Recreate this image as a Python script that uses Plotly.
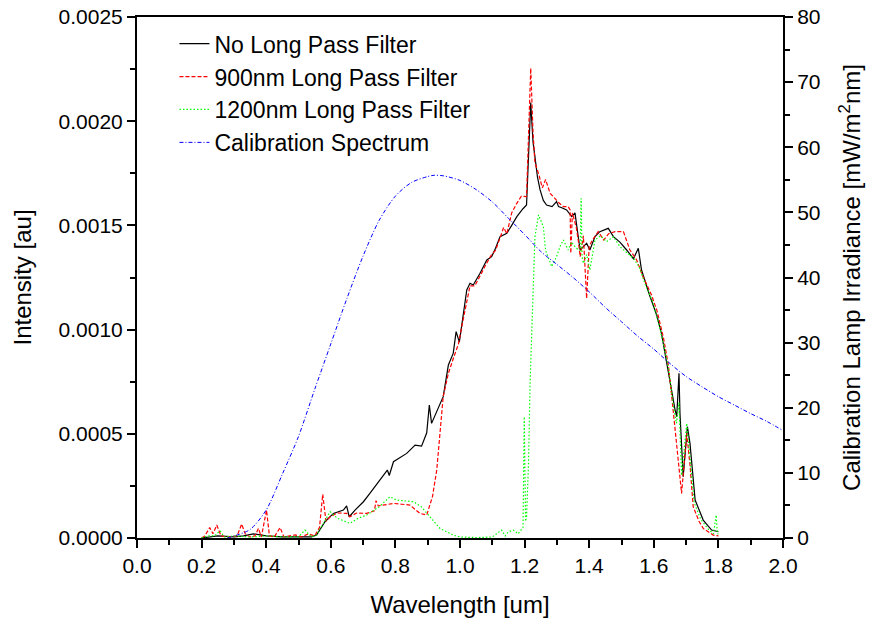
import plotly.graph_objects as go

# ---- No Long Pass Filter (black) ----
nolp_x = [0.20, 0.22, 0.25, 0.30, 0.33, 0.36, 0.40, 0.45, 0.50, 0.54, 0.556, 0.582, 0.608, 0.639, 0.649,
          0.657, 0.675, 0.701, 0.721, 0.752, 0.775, 0.781, 0.794, 0.835, 0.861, 0.881, 0.897, 0.905,
          0.912, 0.948, 0.964, 0.979, 0.988, 0.998, 1.010, 1.021, 1.031, 1.041, 1.062, 1.083, 1.098,
          1.110, 1.124, 1.145, 1.160, 1.176, 1.195, 1.206, 1.219, 1.226, 1.232, 1.240, 1.248, 1.258,
          1.268, 1.285, 1.299, 1.305, 1.315, 1.330, 1.346, 1.356, 1.366, 1.372, 1.382, 1.392, 1.402,
          1.418, 1.433, 1.459, 1.475, 1.495, 1.516, 1.537, 1.552, 1.562, 1.588, 1.609, 1.624, 1.638,
          1.650, 1.666, 1.671, 1.678, 1.681, 1.691, 1.704, 1.712, 1.728, 1.753, 1.779, 1.795, 1.800]
nolp_y = [0.0, 0.05e-4, 0.1e-4, 0.05e-4, 0.1e-4, 0.2e-4, 0.1e-4, 0.05e-4, 0.05e-4, 0.05e-4, 0.14e-4,
          0.78e-4, 1.18e-4, 1.34e-4, 1.54e-4, 1.02e-4, 1.34e-4, 1.74e-4, 2.14e-4, 2.78e-4, 3.26e-4,
          3.0e-4, 3.66e-4, 4.06e-4, 4.46e-4, 4.41e-4, 5.05e-4, 6.38e-4, 5.5e-4, 6.78e-4, 8.3e-4,
          8.86e-4, 9.9e-4, 9.4e-4, 10.78e-4, 11.9e-4, 12.22e-4, 12.14e-4, 12.7e-4, 13.34e-4, 13.5e-4,
          13.9e-4, 14.46e-4, 14.62e-4, 15.0e-4, 15.42e-4, 15.8e-4, 15.98e-4, 20.9e-4, 19.0e-4,
          18.3e-4, 17.3e-4, 16.7e-4, 16.2e-4, 15.98e-4, 15.9e-4, 16.14e-4, 15.9e-4, 15.85e-4,
          15.74e-4, 15.42e-4, 15.6e-4, 14.46e-4, 13.82e-4, 13.98e-4, 14.14e-4, 13.82e-4, 14.46e-4,
          14.7e-4, 14.86e-4, 14.46e-4, 14.2e-4, 13.82e-4, 13.4e-4, 13.9e-4, 12.86e-4, 11.6e-4,
          10.7e-4, 9.8e-4, 8.54e-4, 7.58e-4, 6.14e-4, 5.82e-4, 7.9e-4, 5.98e-4, 2.94e-4, 5.34e-4,
          4.54e-4, 1.82e-4, 0.86e-4, 0.38e-4, 0.3e-4, 0.3e-4]

# ---- 900nm Long Pass Filter (red) ----
lp900_x = [0.20, 0.21, 0.225, 0.235, 0.247, 0.26, 0.28, 0.30, 0.31, 0.324, 0.335, 0.35, 0.365, 0.376,
           0.385, 0.401, 0.41, 0.425, 0.443, 0.455, 0.47, 0.49, 0.51, 0.53, 0.55, 0.565, 0.575, 0.585,
           0.598, 0.62, 0.649, 0.659, 0.68, 0.711, 0.735, 0.740, 0.747, 0.77, 0.794, 0.82, 0.845,
           0.876, 0.897, 0.915, 0.928, 0.948, 0.964, 0.979, 0.995, 1.010, 1.031, 1.046, 1.062, 1.083,
           1.098, 1.110, 1.124, 1.135, 1.145, 1.160, 1.176, 1.190, 1.206, 1.212, 1.219, 1.226, 1.232,
           1.243, 1.255, 1.265, 1.279, 1.289, 1.305, 1.320, 1.335, 1.341, 1.343, 1.348, 1.360, 1.366,
           1.372, 1.382, 1.392, 1.400, 1.410, 1.428, 1.445, 1.46, 1.48, 1.506, 1.526, 1.547, 1.565,
           1.593, 1.61, 1.63, 1.645, 1.661, 1.67, 1.686, 1.702, 1.712, 1.722, 1.74, 1.753, 1.784, 1.80]
lp900_y = [0.0, 0.1e-4, 0.5e-4, 0.2e-4, 0.62e-4, 0.1e-4, 0.05e-4, 0.1e-4, 0.1e-4, 0.67e-4, 0.2e-4,
           0.05e-4, 0.1e-4, 0.46e-4, 0.05e-4, 1.34e-4, 0.1e-4, 0.05e-4, 0.5e-4, 0.05e-4, 0.1e-4,
           0.15e-4, 0.05e-4, 0.2e-4, 0.1e-4, 0.5e-4, 2.1e-4, 0.8e-4, 1.02e-4, 1.2e-4, 1.18e-4, 1.02e-4,
           1.2e-4, 1.18e-4, 1.3e-4, 1.79e-4, 1.54e-4, 1.6e-4, 1.66e-4, 1.62e-4, 1.58e-4, 1.18e-4,
           1.1e-4, 2.0e-4, 3.26e-4, 6.78e-4, 7.9e-4, 8.6e-4, 9.3e-4, 10.5e-4, 12.1e-4, 12.1e-4,
           12.6e-4, 13.2e-4, 13.6e-4, 13.8e-4, 14.4e-4, 14.9e-4, 14.6e-4, 15.6e-4, 16.06e-4, 16.4e-4,
           16.38e-4, 19.0e-4, 22.55e-4, 19.5e-4, 18.0e-4, 17.5e-4, 16.8e-4, 17.2e-4, 16.54e-4,
           16.38e-4, 16.1e-4, 15.9e-4, 15.9e-4, 15.74e-4, 13.66e-4, 15.6e-4, 14.9e-4, 14.3e-4,
           13.5e-4, 14.5e-4, 11.5e-4, 14.0e-4, 14.3e-4, 14.7e-4, 14.3e-4, 14.6e-4, 14.7e-4, 14.7e-4,
           13.82e-4, 13.34e-4, 12.6e-4, 11.66e-4, 10.9e-4, 9.6e-4, 8.3e-4, 5.98e-4, 4.5e-4, 2.14e-4,
           5.02e-4, 3.5e-4, 1.5e-4, 0.8e-4, 0.46e-4, 0.14e-4, 0.1e-4]

# ---- 1200nm Long Pass Filter (green) ----
lp1200_x = [0.20, 0.22, 0.24, 0.257, 0.27, 0.30, 0.35, 0.40, 0.45, 0.50, 0.52, 0.54, 0.556, 0.58,
            0.598, 0.62, 0.659, 0.685, 0.711, 0.75, 0.783, 0.804, 0.83, 0.856, 0.88, 0.907, 0.938,
            0.979, 1.00, 1.05, 1.10, 1.129, 1.14, 1.15, 1.165, 1.18, 1.195, 1.199, 1.203, 1.206,
            1.212, 1.217, 1.225, 1.232, 1.243, 1.250, 1.258, 1.265, 1.273, 1.284, 1.299, 1.310,
            1.320, 1.335, 1.345, 1.360, 1.372, 1.375, 1.378, 1.382, 1.392, 1.402, 1.418, 1.435,
            1.454, 1.475, 1.495, 1.516, 1.537, 1.555, 1.575, 1.595, 1.615, 1.63, 1.645, 1.660, 1.67,
            1.678, 1.686, 1.702, 1.712, 1.725, 1.745, 1.77, 1.785, 1.793, 1.797, 1.80]
lp1200_y = [0.0, 0.1e-4, 0.1e-4, 0.35e-4, 0.05e-4, 0.1e-4, 0.05e-4, 0.1e-4, 0.05e-4, 0.05e-4,
            0.38e-4, 0.05e-4, 0.14e-4, 0.8e-4, 1.26e-4, 0.95e-4, 0.7e-4, 0.95e-4, 1.1e-4, 1.5e-4,
            1.98e-4, 1.82e-4, 1.78e-4, 1.74e-4, 1.5e-4, 1.02e-4, 0.46e-4, 0.14e-4, 0.05e-4, 0.02e-4,
            0.05e-4, 0.38e-4, 0.1e-4, 0.3e-4, 0.38e-4, 0.2e-4, 0.5e-4, 5.82e-4, 0.8e-4, 1.02e-4,
            3.5e-4, 7.42e-4, 11.5e-4, 14.46e-4, 15.5e-4, 15.2e-4, 14.94e-4, 13.8e-4, 13.5e-4,
            13.02e-4, 13.5e-4, 14.0e-4, 14.3e-4, 13.82e-4, 14.2e-4, 13.9e-4, 13.8e-4, 16.3e-4,
            13.5e-4, 13.18e-4, 13.6e-4, 12.86e-4, 14.3e-4, 14.5e-4, 14.22e-4, 14.46e-4, 13.98e-4,
            13.7e-4, 13.42e-4, 13.0e-4, 12.1e-4, 11.4e-4, 10.3e-4, 9.3e-4, 8.2e-4, 6.4e-4, 5.5e-4,
            6.5e-4, 3.0e-4, 5.5e-4, 4.0e-4, 1.7e-4, 0.9e-4, 0.4e-4, 0.2e-4, 1.1e-4, 0.2e-4, 0.2e-4]

# ---- Calibration Spectrum (blue, right axis) ----
cal_x = [0.28, 0.30, 0.35, 0.40, 0.45, 0.50, 0.55, 0.60, 0.65, 0.70, 0.75, 0.80, 0.85, 0.90, 0.92,
         0.95, 1.00, 1.05, 1.10, 1.15, 1.20, 1.25, 1.30, 1.35, 1.40, 1.45, 1.50, 1.55, 1.60, 1.65,
         1.70, 1.75, 1.80, 1.85, 1.90, 1.95, 2.00]
cal_y = [0.0, 0.3, 1.3, 4.3, 9.8, 15.6, 22.8, 29.8, 36.8, 43.3, 48.8, 52.5, 54.6, 55.5, 55.7,
         55.6, 54.9, 53.5, 51.6, 49.1, 46.6, 44.0, 42.0, 40.0, 37.8, 35.4, 33.2, 31.0, 29.0, 26.8,
         24.8, 23.2, 21.7, 20.4, 19.1, 17.9, 16.5]

names = ["No Long Pass Filter", "900nm Long Pass Filter", "1200nm Long Pass Filter", "Calibration Spectrum"]

FONT = "Liberation Sans, Arial, sans-serif"

fig = go.Figure()
fig.add_trace(go.Scatter(x=nolp_x, y=nolp_y, mode="lines", name=names[0], legendgroup="a",
                         line=dict(color="black", width=1.2)))
fig.add_trace(go.Scatter(x=lp900_x, y=lp900_y, mode="lines", name=names[1], legendgroup="b",
                         line=dict(color="#ff0000", width=1.2, dash="4px,2px")))
fig.add_trace(go.Scatter(x=lp1200_x, y=lp1200_y, mode="lines", name=names[2], legendgroup="c",
                         line=dict(color="#00ff00", width=1.2, dash="1.5px,2px")))
fig.add_trace(go.Scatter(x=cal_x, y=cal_y, mode="lines", name=names[3], legendgroup="d",
                         yaxis="y2", line=dict(color="#0000ff", width=1, dash="4px,2px,1px,2px",
                                               shape="spline", smoothing=0.8)))

axis_common = dict(showline=True, linecolor="black", linewidth=2, ticks="outside", ticklen=8,
                   tickwidth=2, tickcolor="black", showgrid=False, zeroline=False, automargin=False,
                   tickfont=dict(family=FONT, size=21, color="black"))

fig.update_layout(
    width=871, height=618,
    margin=dict(l=137, r=88, t=17, b=80),
    paper_bgcolor="white", plot_bgcolor="white",
    font=dict(family=FONT, color="black"),
    showlegend=True,
    legend=dict(x=0.058, y=0.99, xanchor="left", yanchor="top", bgcolor="rgba(0,0,0,0)",
                font=dict(family=FONT, size=23, color="black"), tracegroupgap=0),
    xaxis=dict(range=[0, 2.0], dtick=0.2, tick0=0, tickformat=".1f", mirror=True,
               minor=dict(dtick=0.1, ticklen=5, tickwidth=1.5, tickcolor="black", ticks="outside"),
               title=dict(text="Wavelength [um]", font=dict(family=FONT, size=24), standoff=22),
               **axis_common),
    yaxis=dict(range=[0, 0.0025], dtick=0.0005, tick0=0, tickformat=".4f",
               minor=dict(dtick=0.00025, ticklen=5, tickwidth=1.5, tickcolor="black", ticks="outside"),
               title=dict(text="Intensity [au]", font=dict(family=FONT, size=24), standoff=20),
               **axis_common),
    yaxis2=dict(range=[0, 80], dtick=10, tick0=0, overlaying="y", side="right",
                minor=dict(dtick=5, ticklen=5, tickwidth=1.5, tickcolor="black", ticks="outside"),
                title=dict(text="Calibration Lamp Irradiance [mW/m<sup>2</sup>nm]",
                           font=dict(family=FONT, size=24), standoff=24),
                **axis_common),
)

fig.write_html("out.html")
